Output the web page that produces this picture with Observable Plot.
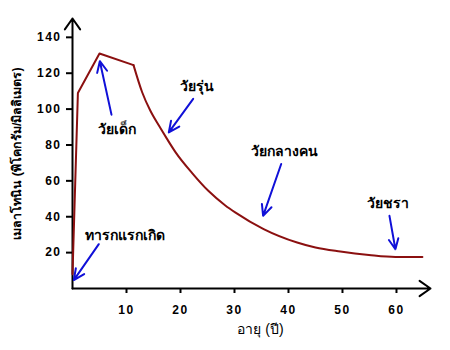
<!DOCTYPE html>
<html><head><meta charset="utf-8">
<script src="https://cdn.jsdelivr.net/npm/d3@7"></script>
<script src="https://cdn.jsdelivr.net/npm/@observablehq/plot@0.6"></script>
<style>body{margin:0;background:#fff}</style>
</head><body><div id="chart"></div>
<script>
// Melatonin level by age
const ages      = [0, 1, 5, 11.3, 12.9, 14.4, 16, 17.5, 19.1, 22.2, 25.2, 28.3, 30.2, 35.4, 41.6, 45, 49.6, 54.9, 59.8, 64.8];
const melatonin = [8, 109, 131, 124.5, 109.4, 99.2, 90.8, 83.4, 75.9, 64.2, 54.3, 46.3, 42.3, 33.1, 25.6, 22.8, 20.6, 18.7, 17.6, 17.6];

const xTicks = [10, 20, 30, 40, 50, 60];
const yTicks = [20, 40, 60, 80, 100, 120, 140];

// annotation labels and the points their arrows run between
const noteText = ["ทารกแรกเกิด", "วัยเด็ก", "วัยรุ่น", "วัยกลางคน", "วัยชรา"];
const noteX    = [9.8, 8.3, 23.0, 39.3, 58.5];
const noteY    = [29.3, 88.5, 112.6, 76.3, 47.2];
const arrowX1  = [4.87, 7.22, 22.35, 38.65, 58.7];
const arrowY1  = [24.7, 96.9, 105.7, 69.4, 40.5];
const arrowX2  = [0.24, 5.06, 17.83, 35.3, 59.8];
const arrowY2  = [4.7, 126.7, 87.0, 40.5, 21.9];

const xLabel = "อายุ (ปี)";
const yLabel = "เมลาโทนิน (พิโคกรัม/มิลลิเมตร)";
const xMax = 66.3, yMax = 150.5;

const series = ages.map((a, i) => ({age: a, value: melatonin[i]}));
const rise = series.slice(0, 4);   // straight segments up to age ~11
const decay = series.slice(3);     // smooth decline afterwards
const notes = noteText.map((t, i) => ({t, x: noteX[i], y: noteY[i], x1: arrowX1[i], y1: arrowY1[i], x2: arrowX2[i], y2: arrowY2[i]}));

const font = "Liberation Sans, Arial, DejaVu Sans, sans-serif";

const chart = Plot.plot({
  width: 450, height: 350,
  marginLeft: 72, marginRight: 20, marginTop: 18, marginBottom: 62,
  x: {domain: [0, xMax]},
  y: {domain: [0, yMax]},
  style: {fontFamily: font, background: "#fff", color: "#000"},
  marks: [
    Plot.axisX({ticks: xTicks, tickSize: 5, tickPadding: 12, label: null, fontSize: 12, fontWeight: "bold", strokeWidth: 2}),
    Plot.axisY({ticks: yTicks, tickSize: 6, tickPadding: 5, label: null, fontSize: 12, fontWeight: "bold", strokeWidth: 2}),
    Plot.arrow([0], {x1: 0, y1: 0, x2: xMax, y2: 0, stroke: "#000", strokeWidth: 2, headLength: 10, headAngle: 70}),
    Plot.arrow([0], {x1: 0, y1: 0, x2: 0, y2: yMax, stroke: "#000", strokeWidth: 2, headLength: 10, headAngle: 70}),
    Plot.line(rise, {x: "age", y: "value", stroke: "#8b1010", strokeWidth: 2}),
    Plot.line(decay, {x: "age", y: "value", stroke: "#8b1010", strokeWidth: 2, curve: "monotone-x"}),
    Plot.arrow(notes, {x1: "x1", y1: "y1", x2: "x2", y2: "y2", stroke: "#1010d8", strokeWidth: 2, headLength: 9, headAngle: 50}),
    Plot.text(notes, {x: "x", y: "y", text: "t", fontSize: 14, fontWeight: "bold", fill: "#000"}),
    Plot.text([xLabel], {frameAnchor: "bottom", text: d => d, dy: 45, dx: 9, fontSize: 14, fill: "#000"}),
    Plot.text([yLabel], {frameAnchor: "left", text: d => d, dx: -56, rotate: -90, textAnchor: "middle", fontSize: 12.5, fontWeight: 600, fill: "#000"})
  ]
});
d3.select(chart).selectAll('g[aria-label="x-axis tick label"] text, g[aria-label="y-axis tick label"] text')
  .attr("letter-spacing", "1.5px");
document.getElementById("chart").appendChild(chart);
</script>
</body></html>
